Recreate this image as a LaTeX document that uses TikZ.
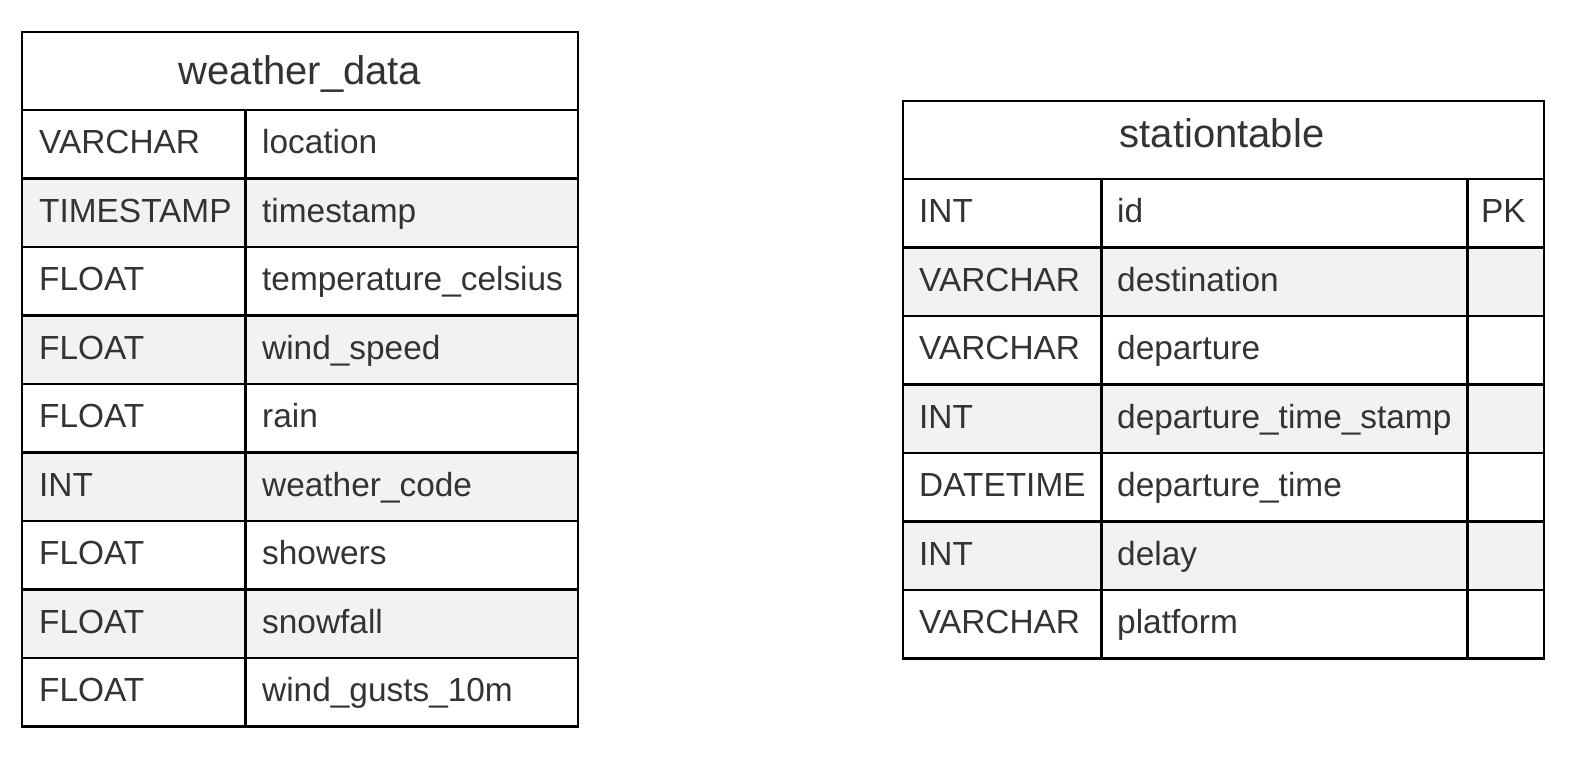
\documentclass[tikz,border=0pt]{standalone}
\usepackage{fontspec}
\setmainfont{Liberation Sans}
\usetikzlibrary{positioning}
\definecolor{rowgray}{HTML}{F2F2F2}
\definecolor{inkgray}{HTML}{333333}

\begin{document}
\begin{tikzpicture}[
    x=1pt, y=-1pt,
    grid/.style={draw=black, line width=2.8pt},
    tabletitle/.style={font=\fontsize{40}{46}\selectfont, text=inkgray, anchor=base, inner sep=0pt},
    cell/.style={font=\fontsize{33.4}{38}\selectfont, text=inkgray, anchor=base west, inner sep=0pt}
]
\useasboundingbox (0,0) rectangle (1572,758);

% weather_data table
\foreach \t/\n [count=\i] in {VARCHAR/location, TIMESTAMP/timestamp,
    FLOAT/temperature\_celsius, FLOAT/wind\_speed, FLOAT/rain,
    INT/weather\_code, FLOAT/showers, FLOAT/snowfall, FLOAT/wind\_gusts\_10m} {
  \pgfmathsetmacro\ytop{110+(\i-1)*68.5}
  \ifodd\i\else
    \fill[rowgray] (22,\ytop) rectangle (578,\ytop+68.5);
  \fi
  \node[cell] (wtype\i) at (39,\ytop+43.5) {\t};
  \node[cell] (wname\i) at (262,\ytop+43.5) {\n};
}
\node[tabletitle] (wtitle) at (300,84) {weather\_data};
\draw[grid] (22,32) rectangle (578,726.5);
\foreach \k in {0,...,8}
  \draw[grid] (22,110+\k*68.5) -- (578,110+\k*68.5);
\draw[grid] (245.5,110) -- (245.5,726.5);

% stationtable
\foreach \t/\n [count=\i] in {INT/id, VARCHAR/destination, VARCHAR/departure,
    INT/departure\_time\_stamp, DATETIME/departure\_time, INT/delay,
    VARCHAR/platform} {
  \pgfmathsetmacro\ytop{179+(\i-1)*68.5}
  \ifodd\i\else
    \fill[rowgray] (903,\ytop) rectangle (1544,\ytop+68.5);
  \fi
  \node[cell] (stype\i) at (919,\ytop+43.5) {\t};
  \node[cell] (sname\i) at (1117,\ytop+43.5) {\n};
}
\node[cell] (skey) at (1481,222.5) {PK};
\node[tabletitle] (stitle) at (1222,147) {stationtable};
\draw[grid] (903,101) rectangle (1544,658.5);
\foreach \k in {0,...,6}
  \draw[grid] (903,179+\k*68.5) -- (1544,179+\k*68.5);
\draw[grid] (1101.5,179) -- (1101.5,658.5);
\draw[grid] (1467.5,179) -- (1467.5,658.5);

\end{tikzpicture}
\end{document}
